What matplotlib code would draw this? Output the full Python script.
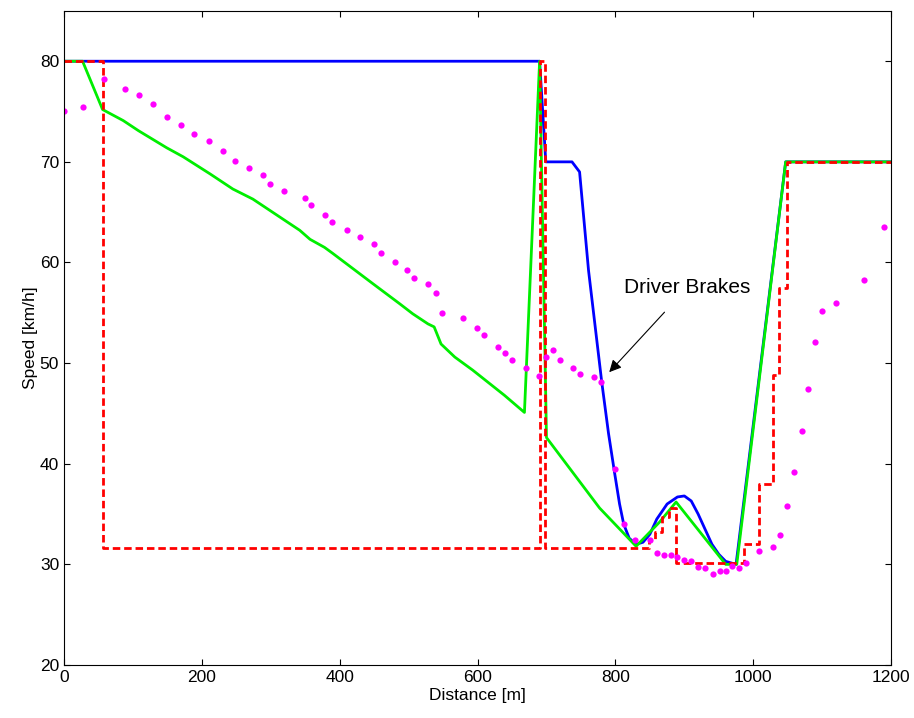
import matplotlib
matplotlib.use("Agg")
import matplotlib.pyplot as plt

plt.rcParams['font.family'] = ['Liberation Sans', 'DejaVu Sans']

# vehicle speed (blue)
blue_d = [0, 690, 699, 737, 748, 761, 780, 790, 799, 806, 812, 820, 830, 840, 850,
          860, 875, 890, 900, 910, 920, 930, 940, 950, 960, 975, 1047, 1200]
blue_v = [80, 80, 70, 70, 69, 59.2, 48.2, 43, 39, 36, 34, 32.6, 32, 32.2, 33,
          34.5, 36, 36.7, 36.8, 36.3, 35, 33.5, 32, 31, 30.3, 30, 70, 70]

# recommended speed (green)
green_d = [0, 27, 56, 86, 108, 149, 173, 212, 245, 274, 342, 357, 378, 390, 448,
           487, 506, 528, 537, 547, 567, 593, 639, 668, 690, 700, 777, 830, 864,
           888, 960, 976, 1047, 1200]
green_v = [80, 80, 75.2, 74.1, 73.1, 71.4, 70.5, 68.8, 67.3, 66.3, 63.2, 62.3, 61.5,
           60.9, 57.9, 55.9, 54.9, 53.9, 53.6, 51.9, 50.6, 49.3, 46.8, 45.1, 80, 42.6,
           35.6, 31.8, 34.2, 36.2, 30, 30, 70, 70]

# speed limit steps (red dashed)
red_d = [0, 57, 57, 690, 690, 698, 698, 848, 848, 858, 858, 868, 868, 878, 878,
         888, 888, 987, 987, 1008, 1008, 1028, 1028, 1038, 1038, 1049, 1049, 1200]
red_v = [80, 80, 31.6, 31.6, 80, 80, 31.6, 31.6, 32.4, 32.4, 33.2, 33.2, 34.7, 34.7,
         35.6, 35.6, 30.1, 30.1, 32, 32, 38, 38, 48.8, 48.8, 57.5, 57.5, 70, 70]

# measured speed (magenta dots)
dot_d = [0, 28, 58, 89, 109, 129, 149, 170, 189, 210, 230, 248, 268, 288, 299, 319,
         349, 359, 379, 389, 410, 429, 450, 460, 480, 498, 508, 528, 539, 549, 579,
         599, 609, 629, 640, 650, 670, 689, 699, 710, 720, 738, 748, 769, 779, 799,
         812, 829, 850, 860, 870, 880, 890, 900, 910, 920, 930, 941, 951, 960, 969,
         979, 989, 1009, 1029, 1039, 1049, 1059, 1070, 1080, 1089, 1100, 1120, 1160,
         1190]
dot_v = [75.1, 75.5, 78.2, 77.2, 76.6, 75.7, 74.5, 73.7, 72.8, 72.1, 71.1, 70.1, 69.4,
         68.7, 67.8, 67.1, 66.4, 65.7, 64.7, 64.0, 63.2, 62.5, 61.8, 60.9, 60.0, 59.3,
         58.5, 57.9, 57.0, 55.0, 54.5, 53.5, 52.8, 51.6, 51.0, 50.3, 49.5, 48.7, 50.6,
         51.3, 50.3, 49.5, 48.9, 48.6, 48.1, 39.5, 34.0, 32.4, 32.4, 31.1, 30.9, 30.9,
         30.7, 30.4, 30.3, 29.7, 29.6, 29.0, 29.3, 29.3, 29.8, 29.6, 30.1, 31.3, 31.7,
         32.9, 35.8, 39.2, 43.3, 47.4, 52.1, 55.2, 56.0, 58.3, 63.5]

fig = plt.figure(figsize=(9.14, 7.18), dpi=100)
ax = fig.add_axes([0.070, 0.0738, 0.905, 0.911])

ax.plot(blue_d, blue_v, color='#0000ff', lw=2)
ax.plot(green_d, green_v, color='#00ee00', lw=2)
ax.plot(red_d, red_v, color='#ff0000', lw=2, dashes=(2.7, 1.4))
ax.plot(dot_d, dot_v, 'o', color='#ff00ff', ms=4.5, mec='none')

ax.annotate('Driver Brakes', xy=(791, 49.1), xytext=(904, 57.5),
            ha='center', va='center', fontsize=15,
            arrowprops=dict(arrowstyle='-|>', color='black', lw=0.8,
                            mutation_scale=18, shrinkA=12, shrinkB=0))

ax.set_xlim(0, 1200)
ax.set_ylim(20, 85)
ax.set_xticks(range(0, 1201, 200))
ax.set_yticks(range(20, 81, 10))
ax.tick_params(direction='in', top=True, right=True, length=4, labelsize=12.5)
ax.set_xlabel('Distance [m]', fontsize=12.5, labelpad=2)
ax.set_ylabel('Speed [km/h]', fontsize=12.5, labelpad=1)

fig.savefig('out.png', dpi=100)
